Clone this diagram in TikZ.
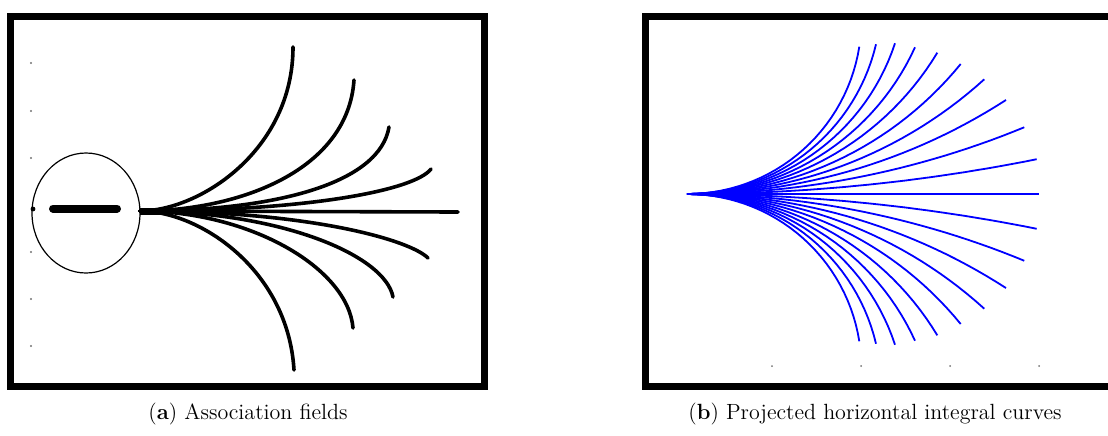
\documentclass[tikz,border=0pt]{standalone}
\usepackage{tikz}
\usetikzlibrary{calc}

\begin{document}
\begin{tikzpicture}[
    x=0.5pt, y=-0.5pt,
    frame/.style={draw, line width=3.5pt},
    field/.style={line width=1.8pt, line cap=round},
    proj/.style={draw=blue, line width=0.9pt},
    tick/.style={fill=black!55},
    caption/.style={anchor=base, font=\fontsize{11}{13}\selectfont}
]
\useasboundingbox (0,0) rectangle (1108,435);
\clip (0,0) rectangle (1108,435);

% (a) association fields
\draw[frame] (10.5,16) rectangle (484,386.5);
\foreach \y in {63,111,158,252,299,346}
    \fill[tick] (31,\y) circle (0.6pt);
\draw[line width=0.6pt] (86,213) ellipse [x radius=27pt, y radius=30pt];
\fill (33,209) circle (1.2pt);
\draw[line width=4pt, line cap=round] (53,208.5) -- (117,208.5);

\coordinate (o1) at (140,211);
\draw[line width=3.5pt] (o1) -- (172,211);
\draw[field] (o1) -- (458,212);
\foreach \ex/\ey/\a/\cx/\cy in {293/47/200/293/150, 354/80/240/348/170,
        389/127/280/380/182, 431/169/310/415/190, 294/370/200/288/270,
        353/328/250/348/268, 393/297/280/385/255, 428/258/310/410/240}
    \draw[field] (o1) .. controls (\a,211) and (\cx,\cy) .. (\ex,\ey);

\node[caption] (capa) at (248,419) {(\textbf{a}) Association fields};

% (b) projected curves
\draw[frame] (645,16) rectangle (1125,386.5);
\foreach \x in {772,861,950,1039}
    \fill[tick] (\x,366) circle (0.5pt);

\coordinate (o2) at (687,194);
\draw[proj] (o2) -- (1039,194);
\foreach \dx/\dy in {1.723/1.473, 1.890/1.497, 2.080/1.507, 2.280/1.467,
        2.503/1.413, 2.737/1.300, 2.973/1.147, 3.190/0.940, 3.373/0.667,
        3.497/0.347}{
    \pgfmathsetmacro\R{(\dx*\dx+\dy*\dy)/(2*\dy)}
    \pgfmathsetmacro\th{atan2(\dx,\R-\dy)}
    \draw[proj] plot[domain=0:\th, samples=30, variable=\t]
        ({687+100*\R*sin(\t)}, {194-100*\R*(1-cos(\t))});
    \draw[proj] plot[domain=0:\th, samples=30, variable=\t]
        ({687+100*\R*sin(\t)}, {194+100*\R*(1-cos(\t))});
}

\node[caption] (capb) at (875,419) {(\textbf{b}) Projected horizontal integral curves};
\end{tikzpicture}
\end{document}
